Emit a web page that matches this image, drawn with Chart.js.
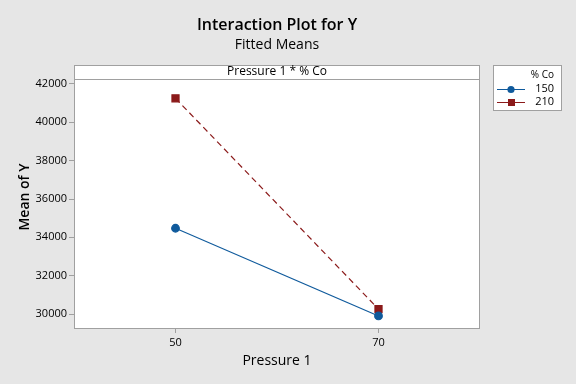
<!DOCTYPE html>
<html>
<head>
<meta charset="utf-8">
<script src="https://cdn.jsdelivr.net/npm/chart.js@4"></script>
<style>
  html, body { margin: 0; padding: 0; background: #e6e6e6; }
  #wrap { width: 576px; height: 384px; }
</style>
</head>
<body>
<div id="wrap"><canvas id="chart" width="576" height="384"></canvas></div>
<script>
// Interaction Plot for Y — fitted means, Pressure 1 * % Co

const pressure = [50, 70];
const co150 = [34475, 29900];
const co210 = [41250, 30260];
const yTicks = [30000, 32000, 34000, 36000, 38000, 40000, 42000];
const xTicks = [50, 70];

const FONT = "'Open Sans', 'Noto Sans', sans-serif";
const GRID = '#a0a0a0';

// titles, panel header, y title and legend box drawn around the plot
const decor = {
  id: 'decor',
  beforeDraw(chart) {
    const { ctx, chartArea: a } = chart;
    ctx.save();
    ctx.fillStyle = '#e6e6e6';
    ctx.fillRect(0, 0, chart.width, chart.height);
    ctx.fillStyle = '#ffffff';
    ctx.fillRect(a.left, a.top - 14, a.right - a.left, a.bottom - a.top + 14);
    ctx.restore();
  },
  afterDraw(chart) {
    const { ctx, chartArea: a } = chart;
    const cx = (a.left + a.right) / 2;
    ctx.save();
    ctx.fillStyle = '#000';
    ctx.textAlign = 'center';
    ctx.textBaseline = 'middle';
    ctx.font = `600 16px ${FONT}`;
    ctx.fillText('Interaction Plot for Y', cx, 25);
    ctx.font = `500 14px ${FONT}`;
    ctx.fillText('Fitted Means', cx, 45);

    // header strip + plot frame
    ctx.strokeStyle = GRID;
    ctx.lineWidth = 1;
    ctx.strokeRect(a.left + 0.5, a.top - 13.5, a.right - a.left - 1, 14);
    ctx.strokeRect(a.left + 0.5, a.top + 0.5, a.right - a.left - 1, a.bottom - a.top - 1);
    ctx.font = `12px ${FONT}`;
    ctx.fillText('Pressure 1 * % Co', cx, a.top - 7);

    // y title
    ctx.save();
    ctx.translate(25, (a.top - 14 + a.bottom) / 2);
    ctx.rotate(-Math.PI / 2);
    ctx.font = `600 14px ${FONT}`;
    ctx.fillText('Mean of Y', 0, 0);
    ctx.restore();

    // legend
    const lx = 493, ly = 65;
    ctx.fillStyle = '#ffffff';
    ctx.fillRect(lx, ly, 69, 46);
    ctx.strokeStyle = GRID;
    ctx.strokeRect(lx + 0.5, ly + 0.5, 68, 45);
    ctx.fillStyle = '#000';
    ctx.textAlign = 'right';
    ctx.font = `10px ${FONT}`;
    ctx.fillText('% Co', 554, 75);
    ctx.font = `11px ${FONT}`;
    chart.data.datasets.forEach((ds, i) => {
      const y = 89 + i * 13;
      ctx.strokeStyle = ds.borderColor;
      ctx.lineWidth = 1;
      ctx.beginPath();
      ctx.moveTo(497, y + 0.5);
      ctx.lineTo(525, y + 0.5);
      ctx.stroke();
      ctx.fillStyle = ds.pointBackgroundColor;
      if (ds.pointStyle === 'rect') {
        ctx.fillRect(508, y - 3, 7, 7);
      } else {
        ctx.beginPath();
        ctx.arc(511, y + 0.5, 3.6, 0, Math.PI * 2);
        ctx.fill();
      }
      ctx.fillStyle = '#000';
      ctx.fillText(ds.label, 554, y);
    });
    ctx.restore();
  }
};

new Chart(document.getElementById('chart'), {
  type: 'line',
  data: {
    datasets: [
      {
        label: '150',
        data: pressure.map((p, i) => ({ x: p, y: co150[i] })),
        borderColor: '#0f5a9c',
        backgroundColor: '#0f5a9c',
        pointBackgroundColor: '#0f5a9c',
        pointBorderColor: '#0f5a9c',
        pointStyle: 'circle',
        pointRadius: 3.8,
        borderWidth: 1.2,
        tension: 0
      },
      {
        label: '210',
        data: pressure.map((p, i) => ({ x: p, y: co210[i] })),
        borderColor: '#8b1a1a',
        backgroundColor: '#8b1a1a',
        pointBackgroundColor: '#8b1a1a',
        pointBorderColor: '#8b1a1a',
        pointStyle: 'rect',
        pointRadius: 5,
        borderWidth: 1.2,
        borderDash: [6, 4],
        tension: 0
      }
    ]
  },
  options: {
    responsive: false,
    animation: false,
    layout: { padding: { top: 79, right: 96, bottom: 0, left: 0 } },
    plugins: {
      legend: { display: false },
      tooltip: { enabled: false }
    },
    scales: {
      x: {
        type: 'linear',
        min: 40,
        max: 80,
        afterBuildTicks: s => { s.ticks = xTicks.map(v => ({ value: v })); },
        afterFit: s => { s.height = 55; },
        grid: { drawOnChartArea: false, color: GRID, tickLength: 4 },
        border: { display: false },
        ticks: { color: '#000', font: { family: FONT, size: 11 }, padding: 3, callback: v => String(v) },
        title: { display: true, text: 'Pressure 1', color: '#000', font: { family: FONT, size: 14 }, padding: { top: 4, bottom: 15 } }
      },
      y: {
        min: 29220,
        max: 42260,
        afterBuildTicks: s => { s.ticks = yTicks.map(v => ({ value: v })); },
        afterFit: s => { s.width = 74; },
        grid: { drawOnChartArea: false, color: GRID, tickLength: 5 },
        border: { display: false },
        ticks: { color: '#000', font: { family: FONT, size: 11 }, padding: 2, callback: v => String(v) }
      }
    }
  },
  plugins: [decor]
});
</script>
</body>
</html>
